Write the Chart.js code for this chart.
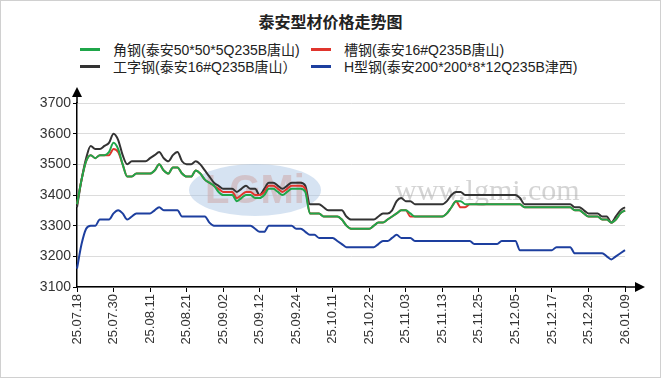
<!DOCTYPE html>
<html>
<head>
<meta charset="utf-8">
<script src="https://cdn.jsdelivr.net/npm/chart.js@4/dist/chart.umd.min.js"></script>
<style>
  html, body { margin: 0; padding: 0; background: #fff; }
  #wrap { position: relative; width: 661px; height: 378px; }
  #frame { position: absolute; left: 0; top: 0; width: 659px; height: 376px; border: 1px solid #d0d0d0; }
  #title { position: absolute; left: 0; top: 9px; width: 661px; text-align: center;
    font: bold 16px "Liberation Sans", "Noto Sans CJK SC", sans-serif; color: #222; }
  #legend { position: absolute; left: 80px; top: 41px; display: grid;
    grid-template-columns: 231px auto; row-gap: 1px;
    font: 14px "Liberation Sans", "Noto Sans CJK SC", sans-serif; color: #222; }
  .item { display: flex; align-items: center; height: 16px; white-space: nowrap; }
  .swatch { width: 20px; height: 3px; margin-right: 13px; }
  canvas { position: absolute; left: 0; top: 0; }
</style>
</head>
<body>
<div id="wrap">
  <div id="frame"></div>
  <div id="title">泰安型材价格走势图</div>
  <div id="legend"></div>
  <canvas id="priceChart" width="661" height="378"></canvas>
</div>
<script>
'use strict'

let dates = ['25.07.18','25.07.21','25.07.22','25.07.23','25.07.24','25.07.25','25.07.28','25.07.29','25.07.30','25.07.31',
    '25.08.01','25.08.04','25.08.05','25.08.06','25.08.07','25.08.08','25.08.11','25.08.12','25.08.13','25.08.14',
    '25.08.15','25.08.18','25.08.19','25.08.20','25.08.21','25.08.22','25.08.25','25.08.26','25.08.27','25.08.28',
    '25.08.29','25.09.01','25.09.02','25.09.03','25.09.04','25.09.05','25.09.08','25.09.09','25.09.10','25.09.11',
    '25.09.12','25.09.15','25.09.16','25.09.17','25.09.18','25.09.19','25.09.22','25.09.23','25.09.24','25.09.25',
    '25.09.26','25.09.28','25.09.29','25.09.30','25.10.09','25.10.10','25.10.11','25.10.13','25.10.14','25.10.15',
    '25.10.16','25.10.17','25.10.20','25.10.21','25.10.22','25.10.23','25.10.24','25.10.27','25.10.28','25.10.29',
    '25.10.30','25.10.31','25.11.03','25.11.04','25.11.05','25.11.06','25.11.07','25.11.10','25.11.11','25.11.12',
    '25.11.13','25.11.14','25.11.17','25.11.18','25.11.19','25.11.20','25.11.21','25.11.24','25.11.25','25.11.26',
    '25.11.27','25.11.28','25.12.01','25.12.02','25.12.03','25.12.04','25.12.05','25.12.08','25.12.09','25.12.10',
    '25.12.11','25.12.12','25.12.15','25.12.16','25.12.17','25.12.18','25.12.19','25.12.22','25.12.23','25.12.24',
    '25.12.25','25.12.26','25.12.29','25.12.30','25.12.31','26.01.04','26.01.05','26.01.06','26.01.07','26.01.08',
    '26.01.09'];

// 角钢(泰安50*50*5Q235B唐山)
let angleSteel = [3370,3450,3510,3530,3520,3530,3530,3540,3570,3550,
    3500,3460,3460,3470,3470,3470,3470,3480,3500,3480,
    3470,3490,3490,3470,3460,3460,3480,3470,3450,3440,
    3430,3410,3400,3400,3400,3380,3390,3400,3400,3390,
    3390,3400,3420,3420,3410,3400,3410,3420,3420,3420,
    3410,3340,3340,3340,3330,3330,3330,3330,3320,3300,
    3290,3290,3290,3290,3290,3300,3310,3310,3320,3330,
    3340,3350,3350,3340,3330,3330,3330,3330,3330,3330,
    3330,3340,3360,3380,3380,3370,3370,3370,3370,3370,
    3370,3370,3370,3370,3370,3370,3370,3370,3360,3360,
    3360,3360,3360,3360,3360,3360,3360,3360,3360,3350,
    3350,3340,3330,3330,3330,3320,3320,3310,3320,3340,
    3350];

// 槽钢(泰安16#Q235B唐山)
let channelSteel = [3370,3450,3510,3530,3520,3530,3530,3530,3550,3540,
    3500,3460,3460,3470,3470,3470,3470,3480,3500,3480,
    3470,3490,3490,3470,3460,3460,3480,3470,3450,3440,
    3430,3420,3410,3410,3410,3390,3400,3410,3410,3400,
    3400,3410,3430,3430,3420,3410,3420,3430,3430,3430,
    3420,3340,3340,3340,3330,3330,3330,3330,3320,3300,
    3290,3290,3290,3290,3290,3300,3310,3310,3320,3330,
    3340,3350,3350,3330,3330,3330,3330,3330,3330,3330,
    3330,3340,3360,3380,3360,3360,3370,3370,3370,3370,
    3370,3370,3370,3370,3370,3370,3370,3370,3360,3360,
    3360,3360,3360,3360,3360,3360,3360,3360,3360,3350,
    3350,3340,3330,3330,3330,3320,3320,3310,3320,3340,
    3350];

// 工字钢(泰安16#Q235B唐山)
let iBeam = [3360,3450,3520,3560,3550,3550,3560,3570,3600,3580,
    3530,3500,3510,3510,3510,3510,3520,3530,3540,3520,
    3510,3530,3540,3510,3500,3500,3510,3500,3480,3460,
    3440,3430,3420,3420,3420,3410,3420,3430,3420,3420,
    3400,3420,3440,3440,3430,3420,3430,3440,3440,3440,
    3430,3370,3370,3370,3360,3350,3350,3350,3350,3330,
    3320,3320,3320,3320,3320,3320,3330,3340,3340,3350,
    3380,3390,3380,3380,3370,3370,3370,3370,3370,3370,
    3370,3380,3400,3410,3410,3400,3400,3400,3400,3400,
    3400,3400,3400,3400,3400,3400,3400,3390,3370,3370,
    3370,3370,3370,3370,3370,3370,3370,3370,3370,3360,
    3360,3350,3340,3340,3340,3330,3330,3310,3330,3350,
    3360];

// H型钢(泰安200*200*8*12Q235B津西)
let hBeam = [3160,3240,3290,3300,3300,3320,3320,3320,3340,3350,
    3340,3320,3330,3340,3340,3340,3340,3350,3360,3350,
    3350,3350,3350,3330,3330,3330,3330,3330,3330,3310,
    3300,3300,3300,3300,3300,3300,3300,3300,3300,3290,
    3280,3280,3300,3300,3300,3300,3300,3300,3290,3290,
    3280,3270,3270,3260,3260,3260,3260,3250,3240,3230,
    3230,3230,3230,3230,3230,3230,3240,3250,3250,3260,
    3270,3260,3260,3260,3250,3250,3250,3250,3250,3250,
    3250,3250,3250,3250,3250,3250,3250,3240,3240,3240,
    3240,3240,3240,3250,3250,3250,3250,3220,3220,3220,
    3220,3220,3220,3220,3220,3230,3230,3230,3230,3210,
    3210,3210,3210,3210,3210,3210,3200,3190,3200,3210,
    3220];

let seriesNames = ['角钢(泰安50*50*5Q235B唐山)', '槽钢(泰安16#Q235B唐山)', '工字钢(泰安16#Q235B唐山）', 'H型钢(泰安200*200*8*12Q235B津西)'];
let seriesColors = ['#1fa64a', '#e0352d', '#333333', '#1d3f9f'];
let seriesData = [angleSteel, channelSteel, iBeam, hBeam];

let yMin = 3100, yMax = 3700, yStep = 100;
let labelEvery = 8;

/**
 * Watermark + axis arrows
 */
let decorations = {
    id: 'decorations',
    beforeDatasetsDraw: function (chart) {
        let c = chart.ctx;
        c.save();
        c.fillStyle = 'rgba(165,192,226,0.45)';
        c.beginPath();
        c.ellipse(255, 190, 66, 26, 0, 0, Math.PI * 2);
        c.fill();
        c.font = 'bold 40px "Liberation Sans", sans-serif';
        c.textBaseline = 'middle';
        c.fillStyle = 'rgba(205,170,170,0.55)';
        c.fillText('LGMi', 205, 192);
        c.font = '30px "Liberation Serif", serif';
        c.fillStyle = 'rgba(160,160,160,0.45)';
        c.fillText('www.lgmi.com', 395, 192);
        c.restore();
    },
    afterDraw: function (chart) {
        let c = chart.ctx;
        let a = chart.chartArea;
        c.save();
        c.strokeStyle = '#000';
        c.fillStyle = '#000';
        c.lineWidth = 1.5;
        c.beginPath();
        c.moveTo(a.left, a.top);
        c.lineTo(a.left, a.top - 10);
        c.moveTo(a.right, a.bottom);
        c.lineTo(a.right + 12, a.bottom);
        c.stroke();
        c.beginPath();
        c.moveTo(a.left, a.top - 16);
        c.lineTo(a.left - 5, a.top - 6);
        c.lineTo(a.left + 5, a.top - 6);
        c.closePath();
        c.fill();
        c.beginPath();
        c.moveTo(a.right + 20, a.bottom);
        c.lineTo(a.right + 10, a.bottom - 5);
        c.lineTo(a.right + 10, a.bottom + 5);
        c.closePath();
        c.fill();
        c.restore();
    }
};

let ctx = document.getElementById('priceChart');
let priceChart = new Chart(ctx, {
    type: 'line',
    data: {
        labels: dates,
        datasets: seriesNames.map(function (name, i) {
            return {
                label: name,
                data: seriesData[i],
                borderColor: seriesColors[i],
                backgroundColor: seriesColors[i],
                borderWidth: 2,
                pointRadius: 0,
                cubicInterpolationMode: 'monotone'
            };
        })
    },
    options: {
        responsive: false,
        animation: false,
        layout: { padding: { left: 0, right: 36, top: 103, bottom: 0 } },
        plugins: {
            legend: { display: false },
            title: { display: false },
            tooltip: { enabled: false }
        },
        scales: {
            x: {
                offset: false,
                afterFit: function (s) { s.height = 91; },
                afterBuildTicks: function (s) {
                    s.ticks = s.ticks.filter(function (t, i) { return i % labelEvery === 0; });
                },
                grid: { drawOnChartArea: false, tickLength: 5, tickColor: '#000' },
                border: { color: '#000', width: 1.5 },
                ticks: {
                    autoSkip: false,
                    minRotation: 90,
                    maxRotation: 90,
                    padding: 2,
                    color: '#333',
                    font: { family: '"Liberation Sans", sans-serif', size: 13 }
                }
            },
            y: {
                min: yMin,
                max: yMax,
                afterFit: function (s) { s.width = 77; },
                grid: { color: '#dcdcdc', tickColor: '#000', tickLength: 4 },
                border: { color: '#000', width: 1.5 },
                ticks: {
                    stepSize: yStep,
                    padding: 2,
                    color: '#333',
                    font: { family: '"Liberation Sans", sans-serif', size: 14 },
                    callback: function (v) { return String(v); }
                }
            }
        }
    },
    plugins: [decorations]
});

// legend built from the chart's datasets, two columns like the original
let legendBox = document.getElementById('legend');
priceChart.data.datasets.forEach(function (ds) {
    let item = document.createElement('div');
    item.className = 'item';
    let sw = document.createElement('span');
    sw.className = 'swatch';
    sw.style.background = ds.borderColor;
    let tx = document.createElement('span');
    tx.textContent = ds.label;
    item.appendChild(sw);
    item.appendChild(tx);
    legendBox.appendChild(item);
});
</script>
</body>
</html>
